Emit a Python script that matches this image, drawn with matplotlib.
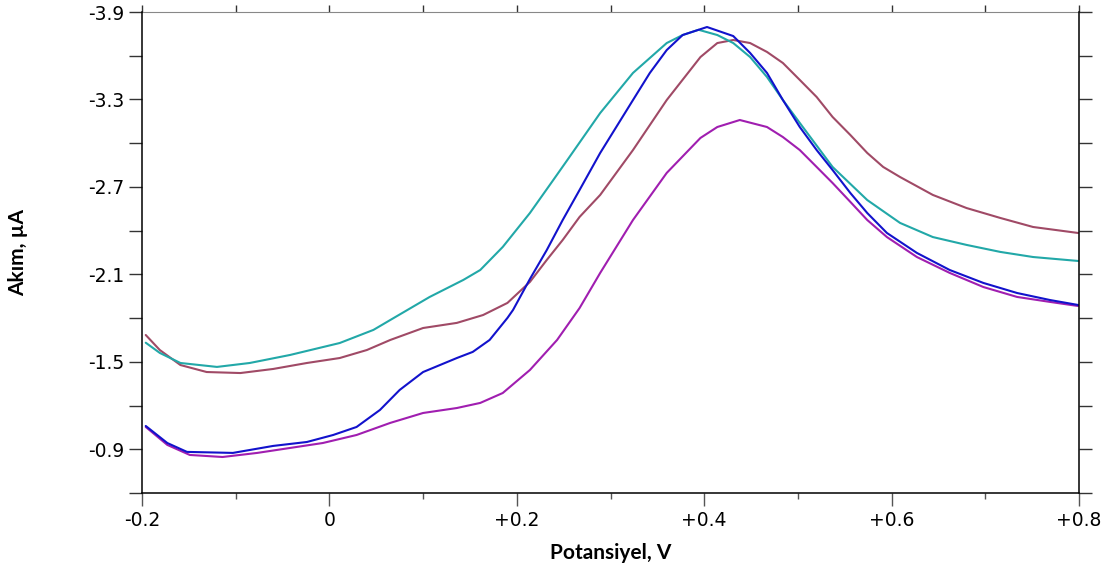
import numpy as np
import matplotlib
matplotlib.use("Agg")
import matplotlib.pyplot as plt
from matplotlib.ticker import FuncFormatter, MultipleLocator

# voltammogram traces (potential in V, current in uA)
cyan_x = [-0.196, -0.181, -0.159, -0.120, -0.085, -0.042, 0.011, 0.047, 0.065, 0.107, 0.143, 0.161,
          0.185, 0.214, 0.239, 0.254, 0.289, 0.324, 0.360, 0.377, 0.394, 0.414, 0.431, 0.449, 0.467,
          0.484, 0.502, 0.537, 0.574, 0.609, 0.644, 0.680, 0.716, 0.751, 0.799]
cyan_y = [-1.631, -1.561, -1.492, -1.465, -1.492, -1.547, -1.629, -1.719, -1.787, -1.945, -2.062, -2.130,
          -2.288, -2.521, -2.748, -2.885, -3.207, -3.482, -3.687, -3.742, -3.778, -3.742, -3.687, -3.591, -3.454,
          -3.296, -3.139, -2.837, -2.610, -2.453, -2.356, -2.302, -2.254, -2.219, -2.192]

brown_x = [-0.196, -0.181, -0.159, -0.131, -0.095, -0.060, -0.024, 0.011, 0.040, 0.065, 0.100, 0.136,
           0.164, 0.190, 0.214, 0.232, 0.249, 0.267, 0.289, 0.324, 0.360, 0.396, 0.414, 0.431, 0.449,
           0.467, 0.484, 0.502, 0.520, 0.537, 0.556, 0.574, 0.591, 0.609, 0.644, 0.680, 0.716, 0.751, 0.799]
brown_y = [-1.684, -1.581, -1.478, -1.430, -1.423, -1.451, -1.492, -1.526, -1.581, -1.650, -1.732, -1.767,
           -1.821, -1.904, -2.048, -2.199, -2.336, -2.494, -2.645, -2.953, -3.296, -3.591, -3.687, -3.708, -3.687,
           -3.626, -3.550, -3.434, -3.317, -3.180, -3.056, -2.933, -2.837, -2.768, -2.645, -2.555, -2.487, -2.425, -2.384]

blue_x = [-0.196, -0.173, -0.152, -0.103, -0.060, -0.024, 0.004, 0.029, 0.054, 0.075, 0.100, 0.136, 0.153,
          0.171, 0.190, 0.196, 0.214, 0.232, 0.249, 0.267, 0.289, 0.324, 0.342, 0.360, 0.377, 0.403, 0.431,
          0.449, 0.467, 0.484, 0.502, 0.520, 0.537, 0.556, 0.574, 0.595, 0.627, 0.662, 0.698, 0.734, 0.769, 0.799]
blue_y = [-1.060, -0.943, -0.882, -0.875, -0.923, -0.950, -0.998, -1.053, -1.170, -1.307, -1.430, -1.526, -1.568,
          -1.650, -1.801, -1.856, -2.068, -2.267, -2.473, -2.679, -2.933, -3.296, -3.482, -3.639, -3.742, -3.797, -3.735,
          -3.619, -3.482, -3.296, -3.111, -2.953, -2.816, -2.658, -2.521, -2.384, -2.247, -2.130, -2.041, -1.972, -1.924, -1.890]

magenta_x = [-0.196, -0.173, -0.149, -0.114, -0.077, -0.042, -0.007, 0.029, 0.065, 0.100, 0.136, 0.161,
             0.185, 0.214, 0.243, 0.267, 0.289, 0.324, 0.360, 0.396, 0.414, 0.438, 0.467, 0.484, 0.502,
             0.520, 0.537, 0.556, 0.574, 0.595, 0.627, 0.662, 0.698, 0.734, 0.769, 0.799]
magenta_y = [-1.053, -0.930, -0.861, -0.847, -0.875, -0.909, -0.943, -0.998, -1.081, -1.149, -1.183, -1.218,
             -1.286, -1.444, -1.650, -1.869, -2.110, -2.473, -2.796, -3.036, -3.111, -3.159, -3.111, -3.042, -2.953,
             -2.837, -2.727, -2.597, -2.473, -2.356, -2.219, -2.110, -2.013, -1.945, -1.911, -1.883]

x_ticks = [-0.2, 0, 0.2, 0.4, 0.6, 0.8]
y_ticks = [-3.9, -3.3, -2.7, -2.1, -1.5, -0.9]

fig = plt.figure(figsize=(11.13, 5.66), dpi=100)
ax = fig.add_axes([142 / 1113, 1 - 493 / 566, 937 / 1113, 481 / 566])

lw = 1.5
for xs, ys, col in [(brown_x, brown_y, "#a04a66"), (magenta_x, magenta_y, "#a01eb0"),
                    (cyan_x, cyan_y, "#22a8a8"), (blue_x, blue_y, "#1212cc")]:
    ax.plot(xs, ys, color=col, lw=lw, solid_joinstyle="round", solid_capstyle="round")

ax.set_xlim(-0.2, 0.8)
ax.set_ylim(-0.6, -3.9)   # inverted: more negative current upwards

ax.set_xticks(x_ticks)
ax.xaxis.set_minor_locator(MultipleLocator(0.1))
ax.set_yticks(y_ticks)
ax.yaxis.set_minor_locator(MultipleLocator(0.3))

def fmt_x(v, pos):
    if abs(v) < 1e-9:
        return "0"
    return f"+{v:.1f}" if v > 0 else f"{v:.1f}"

ax.xaxis.set_major_formatter(FuncFormatter(fmt_x))
ax.yaxis.set_major_formatter(FuncFormatter(lambda v, p: f"{v:.1f}"))

for lab in ax.get_xticklabels() + ax.get_yticklabels():
    lab.set_fontfamily("DejaVu Sans")
    lab.set_fontsize(13.5)

ax.tick_params(axis="y", which="both", direction="out", length=9.5, width=1.0,
               left=True, right=True, color="#333333", pad=3.5)
ax.tick_params(axis="x", which="major", direction="out", length=9, width=1.0,
               bottom=True, top=False, color="#555555", pad=4)
ax.tick_params(axis="x", which="minor", direction="out", length=4.5, width=1.0,
               bottom=True, top=False, color="#555555")

# top edge: short ticks every 0.1, grey spine
top = ax.secondary_xaxis("top")
top.set_xticks(np.arange(-0.2, 0.81, 0.1))
top.tick_params(direction="out", length=5, width=1.0, color="#333333", labeltop=False)
top.spines["top"].set_color("#888888")
ax.spines["top"].set_visible(False)

for s in ("left", "right", "bottom"):
    ax.spines[s].set_color("black")
    ax.spines[s].set_linewidth(1.1)

ax.set_xlabel("Potansiyel, V", fontfamily="Lato", fontweight="bold", fontsize=15, labelpad=9)
ax.set_ylabel("Akım, µA", fontfamily="Lato", fontweight="bold", fontsize=15)
ax.yaxis.set_label_coords(-0.122, 0.5)

fig.savefig("out.png", dpi=100)
